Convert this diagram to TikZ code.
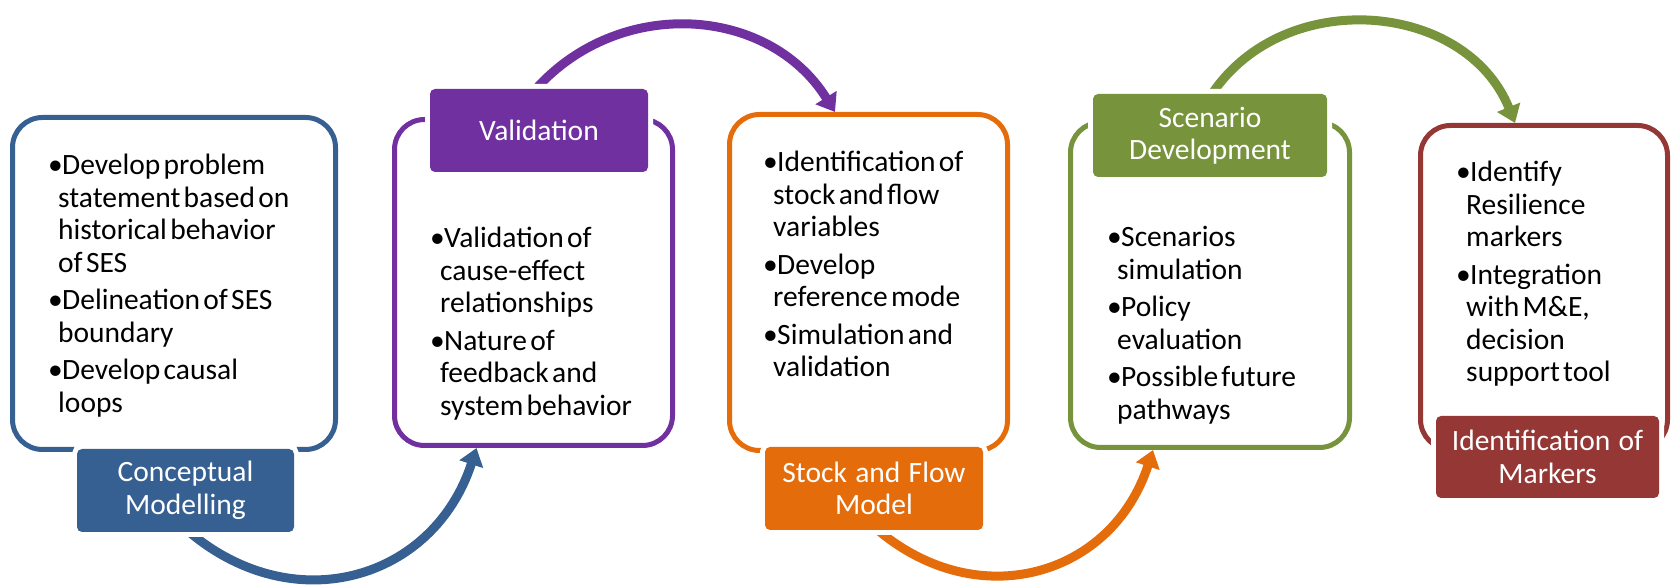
\documentclass[tikz,border=0pt]{standalone}
\usepackage{fontspec}
\setmainfont{Carlito}[WordSpace=1.25]
\usetikzlibrary{arrows.meta}

\definecolor{cmblue}{HTML}{376092}
\definecolor{cmpurple}{HTML}{7030A0}
\definecolor{cmorange}{HTML}{E46C0A}
\definecolor{cmgreen}{HTML}{77933C}
\definecolor{cmred}{HTML}{953735}

\pgfdeclarelayer{bg}
\pgfsetlayers{bg,main}

\newcommand{\bodyfont}{\fontsize{29.5}{32.5}\selectfont\setlength{\parskip}{5pt}}
\newcommand{\bitem}[1]{\hangindent=10pt\hangafter=1\makebox[14pt][l]{\textbullet}#1\par}

\tikzset{
  stagebox/.style={draw, fill=white, line width=5pt, rounded corners=30pt, inner sep=0pt},
  stagelabel/.style={text=white, inner sep=0pt, rounded corners=5pt, align=center,
    font=\fontsize{29.5}{32.5}\selectfont, preaction={draw=white, line width=10pt}},
  stagetext/.style={anchor=base west, inner sep=0pt, text width=300pt},
  flow/.style={line width=9pt, -{Triangle[length=17pt, width=24pt]}}
}

\begin{document}
\begin{tikzpicture}[x=1pt, y=1pt]
        \useasboundingbox (0,0) rectangle (1673,586);

        % boxes
        \begin{pgfonlayer}{bg}
        \node[stagebox, draw=cmblue, minimum width=323pt, minimum height=332pt] (b1) at (174,302.5) {};
        \node[stagebox, draw=cmpurple, minimum width=278pt, minimum height=326pt] (b2) at (533.5,303.5) {};
        \node[stagebox, draw=cmorange, minimum width=278pt, minimum height=336pt] (b3) at (868.5,303.5) {};
        \node[stagebox, draw=cmgreen, minimum width=279pt, minimum height=325pt] (b4) at (1210,301) {};
        \node[stagebox, draw=cmred, minimum width=247pt, minimum height=324pt] (b5) at (1544,298.5) {};
        \end{pgfonlayer}

        % labels
        \node[stagelabel, fill=cmblue, minimum width=217pt, minimum height=83pt] (l1) at (185.5,95.5) {Conceptual\\Modelling};
        \node[stagelabel, fill=cmpurple, minimum width=218pt, minimum height=83pt] (l2) at (539,455.5) {Validation};
        \node[stagelabel, fill=cmorange, minimum width=218pt, minimum height=83pt] (l3) at (874,97.5) {Stock and Flow\\Model};
        \node[stagelabel, fill=cmgreen, minimum width=234pt, minimum height=83pt] (l4) at (1210,450.5) {Scenario\\Development};
        \node[stagelabel, fill=cmred, minimum width=223pt, minimum height=82pt] (l5) at (1547.5,129) {Identification of\\Markers};

        % arrows, under the labels
        \begin{pgfonlayer}{bg}
        \draw[flow, cmblue] ([xshift=4pt]l1.south) to[out=-40, in=-108, looseness=1.18] ([xshift=-57pt]b2.south);
        \draw[flow, cmpurple] ([xshift=-3pt]l2.north) to[out=48, in=122, looseness=1.07] ([xshift=-33.5pt]b3.north);
        \draw[flow, cmorange] ([xshift=4pt]l3.south) to[out=-40, in=-108, looseness=1.18] ([xshift=-57pt]b4.south);
        \draw[flow, cmgreen] ([xshift=2pt]l4.north) to[out=56, in=112, looseness=1.1] ([xshift=-29pt]b5.north);
        \end{pgfonlayer}

        % texts
        \node[stagetext] (t1) at (48,411) {\bodyfont
          \bitem{Develop problem\newline statement based on\newline historical behavior\newline of SES}
          \bitem{Delineation of SES\newline boundary}
          \bitem{Develop causal\newline loops}};
        \node[stagetext] (t2) at (430,338) {\bodyfont
          \bitem{Validation of\newline cause-effect\newline relationships}
          \bitem{Nature of\newline feedback and\newline system behavior}};
        \node[stagetext] (t3) at (763,414) {\bodyfont
          \bitem{Identification of\newline stock and flow\newline variables}
          \bitem{Develop\newline reference mode}
          \bitem{Simulation and\newline validation}};
        \node[stagetext] (t4) at (1107,339) {\bodyfont
          \bitem{Scenarios\newline simulation}
          \bitem{Policy\newline evaluation}
          \bitem{Possible future\newline pathways}};
        \node[stagetext] (t5) at (1456,404) {\bodyfont
          \bitem{Identify\newline Resilience\newline markers}
          \bitem{Integration\newline with M\&E,\newline decision\newline support tool}};

\end{tikzpicture}
\end{document}
